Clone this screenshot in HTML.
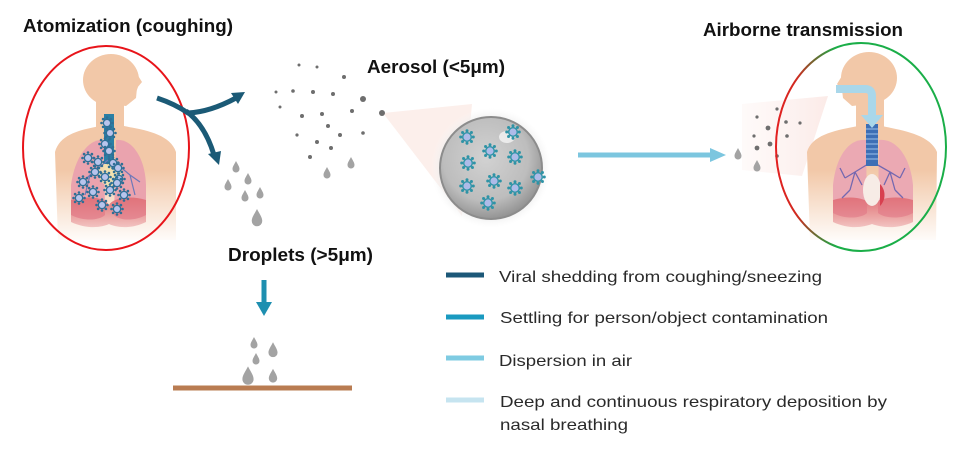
<!DOCTYPE html>
<html><head><meta charset="utf-8"><style>
html,body{margin:0;padding:0;background:#fff;}
svg{display:block;}
</style></head><body>
<svg width="965" height="453" viewBox="0 0 965 453" xmlns="http://www.w3.org/2000/svg">
<defs>
  <linearGradient id="skin" x1="0" y1="170" x2="0" y2="245" gradientUnits="userSpaceOnUse">
    <stop offset="0" stop-color="#f2c8a8"/>
    <stop offset="1" stop-color="#f2c8a8" stop-opacity="0"/>
  </linearGradient>
  <linearGradient id="red" x1="0" y1="195" x2="0" y2="235" gradientUnits="userSpaceOnUse">
    <stop offset="0" stop-color="#e07078"/>
    <stop offset="1" stop-color="#e07078" stop-opacity="0.2"/>
  </linearGradient>
  <linearGradient id="cone" x1="740" y1="0" x2="830" y2="0" gradientUnits="userSpaceOnUse">
    <stop offset="0" stop-color="#fdf3f1" stop-opacity="0.4"/>
    <stop offset="1" stop-color="#fbeae7"/>
  </linearGradient>
  <linearGradient id="ell" x1="776" y1="0" x2="836" y2="0" gradientUnits="userSpaceOnUse">
    <stop offset="0" stop-color="#e32020"/>
    <stop offset="0.35" stop-color="#d02a20"/>
    <stop offset="0.65" stop-color="#6a6a30"/>
    <stop offset="1" stop-color="#1aae48"/>
  </linearGradient>
  <radialGradient id="sph" cx="0.45" cy="0.4" r="0.6">
    <stop offset="0" stop-color="#d2d2d2"/>
    <stop offset="0.7" stop-color="#bdbdbd"/>
    <stop offset="1" stop-color="#949494"/>
  </radialGradient>
  <radialGradient id="halo" cx="0.5" cy="0.5" r="0.5">
    <stop offset="0.8" stop-color="#ececec"/>
    <stop offset="1" stop-color="#f8f8f8" stop-opacity="0"/>
  </radialGradient>
  <g id="v">
    <g fill="#2e93a6">
      <circle cx="6.3" cy="0" r="1.5"/><circle cx="4.45" cy="4.45" r="1.5"/>
      <circle cx="0" cy="6.3" r="1.5"/><circle cx="-4.45" cy="4.45" r="1.5"/>
      <circle cx="-6.3" cy="0" r="1.5"/><circle cx="-4.45" cy="-4.45" r="1.5"/>
      <circle cx="0" cy="-6.3" r="1.5"/><circle cx="4.45" cy="-4.45" r="1.5"/>
    </g>
    <circle r="5" fill="#2e93a6"/>
    <circle r="3.6" fill="#aebbe8"/>
  </g>
  <g id="vb">
    <g fill="#2f6f96">
      <circle cx="5.5" cy="0" r="1.3"/><circle cx="3.9" cy="3.9" r="1.3"/>
      <circle cx="0" cy="5.5" r="1.3"/><circle cx="-3.9" cy="3.9" r="1.3"/>
      <circle cx="-5.5" cy="0" r="1.3"/><circle cx="-3.9" cy="-3.9" r="1.3"/>
      <circle cx="0" cy="-5.5" r="1.3"/><circle cx="3.9" cy="-3.9" r="1.3"/>
    </g>
    <circle r="4.3" fill="#2f6f96"/>
    <circle r="3" fill="#b8c4ec"/>
  </g>
  <path id="d" d="M0,-6 C1.5,-3 3.5,-0.5 3.5,2 A3.5,3.5 0 0 1 -3.5,2 C-3.5,-0.5 -1.5,-3 0,-6Z" fill="#a3a3a3"/>
</defs>

<!-- pink cones -->
<polygon points="383,113 472,104 462,216" fill="#fcefeb"/>
<polygon points="742,104 828,96 802,176 742,170" fill="url(#cone)"/>

<!-- LEFT PERSON -->
<g>
  <ellipse cx="111" cy="80" rx="28" ry="26" fill="#f2c8a8"/>
  <path d="M132,66 L142,82 L137,88 L136,98 L126,106 L110,104 Z" fill="#f2c8a8"/>
  <rect x="96" y="95" width="28" height="40" fill="#f2c8a8"/>
  <path d="M100,126 C80,130 60,134 55,152 L58,240 L176,240 L176,152 C170,134 145,130 124,126 Z" fill="url(#skin)"/>
  <path d="M104,140 C90,138 75,155 71,185 L71,215 C85,222 100,220 105,215 Z" fill="#eaa3ae"/>
  <path d="M116,140 C130,138 145,155 146,185 L146,215 C133,222 118,220 114,215 Z" fill="#eaa3ae"/>
  <path d="M71,200 C90,195 105,198 109,205 C113,198 130,195 146,200 L146,222 C130,230 115,227 109,224 C103,227 88,230 71,222 Z" fill="url(#red)"/>
  <ellipse cx="110" cy="172" rx="12" ry="14" fill="#f3e7b0" opacity="0.8"/>
  <rect x="104" y="114" width="10" height="50" fill="#2a7fa5"/>
  <g stroke="#6e78b8" stroke-width="1.2" fill="none">
    <path d="M108,160 L90,175 L80,185 M90,175 L85,195 M112,160 L130,175 L140,182 M130,175 L135,195"/>
  </g>
  <use href="#vb" x="107" y="123"/><use href="#vb" x="110" y="133"/><use href="#vb" x="105" y="144"/>
  <use href="#vb" x="109" y="151"/><use href="#vb" x="88" y="158"/><use href="#vb" x="98" y="162"/>
  <use href="#vb" x="113" y="163"/><use href="#vb" x="118" y="168"/><use href="#vb" x="95" y="172"/>
  <use href="#vb" x="105" y="177"/><use href="#vb" x="119" y="179"/><use href="#vb" x="83" y="182"/>
  <use href="#vb" x="93" y="192"/><use href="#vb" x="110" y="190"/><use href="#vb" x="117" y="183"/>
  <use href="#vb" x="124" y="195"/><use href="#vb" x="79" y="198"/><use href="#vb" x="102" y="205"/>
  <use href="#vb" x="117" y="209"/>
</g>
<ellipse cx="106" cy="148" rx="83" ry="102" fill="none" stroke="#e8141a" stroke-width="2"/>

<!-- dark cough arrows -->
<g stroke="#1b5a76" stroke-width="5" fill="none" stroke-linecap="butt">
  <path d="M157,98 Q175,104 188,113 Q210,112 236,98"/>
  <path d="M186,111 Q205,125 214,155"/>
</g>
<polygon points="245,92 231,93 238,104" fill="#1b5a76"/>
<polygon points="219,165 208,154 221,151" fill="#1b5a76"/>

<!-- left drops -->
<use href="#d" x="236" y="167"/>
<use href="#d" x="248" y="179"/>
<use href="#d" x="228" y="185"/>
<use href="#d" x="245" y="196"/>
<use href="#d" x="260" y="193"/>
<g transform="translate(257,218) scale(1.5)"><use href="#d"/></g>

<!-- aerosol dots -->
<g fill="#6e6e6e">
  <circle cx="299" cy="65" r="1.5"/><circle cx="317" cy="67" r="1.5"/><circle cx="344" cy="77" r="2"/>
  <circle cx="276" cy="92" r="1.5"/><circle cx="293" cy="91" r="1.8"/><circle cx="313" cy="92" r="2"/>
  <circle cx="333" cy="94" r="2"/><circle cx="363" cy="99" r="3"/><circle cx="280" cy="107" r="1.5"/>
  <circle cx="302" cy="116" r="2"/><circle cx="322" cy="114" r="2"/><circle cx="352" cy="111" r="2"/>
  <circle cx="382" cy="113" r="3"/><circle cx="328" cy="126" r="2"/><circle cx="297" cy="135" r="1.6"/>
  <circle cx="317" cy="142" r="2"/><circle cx="340" cy="135" r="2"/><circle cx="363" cy="133" r="1.8"/>
  <circle cx="331" cy="148" r="2"/><circle cx="310" cy="157" r="2"/>
</g>
<use href="#d" x="351" y="163"/>
<use href="#d" x="327" y="173"/>

<!-- sphere -->
<circle cx="491" cy="168" r="60" fill="url(#halo)"/>
<circle cx="491" cy="168" r="51" fill="url(#sph)" stroke="#8c8c8c" stroke-width="2"/>
<ellipse cx="507" cy="137" rx="8" ry="6" fill="#f4f4f4" opacity="0.8"/>
<use href="#v" x="467" y="137"/><use href="#v" x="513" y="132"/><use href="#v" x="490" y="151"/>
<use href="#v" x="515" y="157"/><use href="#v" x="468" y="163"/><use href="#v" x="538" y="177"/>
<use href="#v" x="467" y="186"/><use href="#v" x="494" y="181"/><use href="#v" x="515" y="188"/>
<use href="#v" x="488" y="203"/>

<!-- dispersion arrow -->
<rect x="578" y="152.5" width="136" height="5" fill="#7cc6df"/>
<polygon points="726,155 710,148 710,162" fill="#7cc6df"/>

<!-- right dots -->
<g fill="#6e6e6e">
  <circle cx="757" cy="117" r="1.6"/><circle cx="777" cy="109" r="1.6"/><circle cx="786" cy="122" r="1.8"/>
  <circle cx="800" cy="123" r="1.6"/><circle cx="768" cy="128" r="2.4"/><circle cx="754" cy="136" r="1.6"/>
  <circle cx="787" cy="136" r="1.8"/><circle cx="770" cy="144" r="2.4"/><circle cx="757" cy="148" r="2.4"/>
  <circle cx="777" cy="156" r="1.8"/>
</g>
<use href="#d" x="738" y="154"/>
<use href="#d" x="757" y="166"/>

<!-- RIGHT PERSON -->
<g>
  <ellipse cx="869" cy="78" rx="28" ry="26" fill="#f2c8a8"/>
  <path d="M848,66 L837,84 L842,90 L843,98 L852,106 L870,104 Z" fill="#f2c8a8"/>
  <rect x="856" y="95" width="28" height="40" fill="#f2c8a8"/>
  <path d="M858,126 C838,130 812,134 807,152 L810,240 L936,240 L937,152 C930,134 900,130 882,126 Z" fill="url(#skin)"/>
  <path d="M866,140 C850,138 836,155 833,185 L833,213 C846,220 862,218 867,213 Z" fill="#eba9b3"/>
  <path d="M879,140 C895,138 910,155 913,185 L913,213 C900,220 884,218 878,213 Z" fill="#eba9b3"/>
  <path d="M833,200 C850,195 866,198 872,205 C878,198 896,195 913,200 L913,222 C896,230 880,227 872,224 C864,227 850,230 833,222 Z" fill="url(#red)"/>
  <ellipse cx="872" cy="190" rx="9" ry="16" fill="#f7ece6"/>
  <path d="M880,184 C886,190 886,200 880,206 Z" fill="#d84050"/>
  <g stroke="#7468b0" stroke-width="1.3" fill="none">
    <path d="M868,164 L855,172 L845,178 M855,172 L850,190 M855,172 L862,185 M845,178 L840,168 M850,190 L842,198"/>
    <path d="M876,164 L890,172 L900,178 M890,172 L895,190 M890,172 L884,185 M900,178 L905,168 M895,190 L903,198"/>
  </g>
  <rect x="866" y="124" width="12" height="42" fill="#3d6fb5"/>
  <g stroke="#9cc0ea" stroke-width="1">
    <line x1="866" y1="129" x2="878" y2="129"/><line x1="866" y1="134" x2="878" y2="134"/>
    <line x1="866" y1="139" x2="878" y2="139"/><line x1="866" y1="144" x2="878" y2="144"/>
    <line x1="866" y1="149" x2="878" y2="149"/><line x1="866" y1="154" x2="878" y2="154"/>
    <line x1="866" y1="159" x2="878" y2="159"/>
  </g>
  <path d="M836,89 L865,89 Q872,89 872,96 L872,116" stroke="#a9d7ea" stroke-width="8" fill="none"/>
  <polygon points="861,115 883,115 872,128" fill="#a9d7ea"/>
</g>
<ellipse cx="861" cy="147" rx="85" ry="104" fill="none" stroke="url(#ell)" stroke-width="2"/>

<!-- droplets down arrow & ground -->
<rect x="261.5" y="280" width="5" height="24" fill="#1e8fb0"/>
<polygon points="256,302 272,302 264,316" fill="#1e8fb0"/>
<use href="#d" x="254" y="343"/>
<g transform="translate(273,350) scale(1.3)"><use href="#d"/></g>
<use href="#d" x="256" y="359"/>
<g transform="translate(248,376) scale(1.6)"><use href="#d"/></g>
<g transform="translate(273,376) scale(1.2)"><use href="#d"/></g>
<rect x="173" y="385.5" width="179" height="5" fill="#b97c52"/>

<!-- titles -->
<g font-family="Liberation Sans, Arial, sans-serif" font-weight="bold" font-size="18" fill="#111">
  <text x="23" y="32" textLength="210" lengthAdjust="spacingAndGlyphs">Atomization (coughing)</text>
  <text x="367" y="73" textLength="138" lengthAdjust="spacingAndGlyphs">Aerosol (&lt;5μm)</text>
  <text x="703" y="36" textLength="200" lengthAdjust="spacingAndGlyphs">Airborne transmission</text>
  <text x="228" y="261" textLength="145" lengthAdjust="spacingAndGlyphs">Droplets (&gt;5μm)</text>
</g>

<!-- legend -->
<rect x="446" y="272.5" width="38" height="5" fill="#1c5878"/>
<rect x="446" y="314.5" width="38" height="5" fill="#1a9ac0"/>
<rect x="446" y="355.5" width="38" height="5" fill="#7ecbe2"/>
<rect x="446" y="397.5" width="38" height="5" fill="#c6e4f0"/>
<g font-family="Liberation Sans, Arial, sans-serif" font-size="16" fill="#2a2a2a">
  <text x="499" y="282" textLength="323" lengthAdjust="spacingAndGlyphs">Viral shedding from coughing/sneezing</text>
  <text x="500" y="323" textLength="328" lengthAdjust="spacingAndGlyphs">Settling for person/object contamination</text>
  <text x="499" y="366" textLength="133" lengthAdjust="spacingAndGlyphs">Dispersion in air</text>
  <text x="500" y="407" textLength="387" lengthAdjust="spacingAndGlyphs">Deep and continuous respiratory deposition by</text>
  <text x="500" y="430" textLength="128" lengthAdjust="spacingAndGlyphs">nasal breathing</text>
</g>
</svg>
</body></html>
